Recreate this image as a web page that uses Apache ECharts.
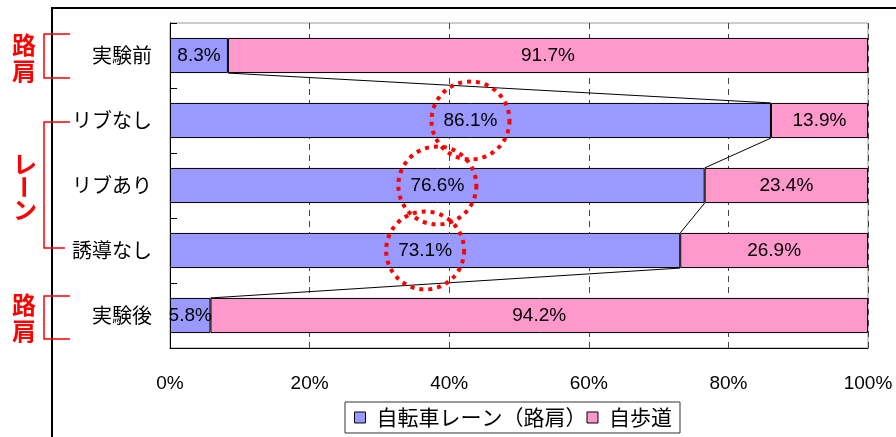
<!DOCTYPE html>
<html>
<head>
<meta charset="utf-8">
<script src="https://cdn.jsdelivr.net/npm/echarts@6/dist/echarts.min.js"></script>
<style>
  html, body { margin: 0; padding: 0; background: #fff; }
  #chart { width: 896px; height: 437px; }
</style>
</head>
<body>
<div id="chart"></div>
<script>
// Share of cyclists by riding position, per survey condition
const categories = ['実験前', 'リブなし', 'リブあり', '誘導なし', '実験後'];
const laneShare = [8.3, 86.1, 76.6, 73.1, 5.8];      // 自転車レーン（路肩）
const sidewalkShare = [91.7, 13.9, 23.4, 26.9, 94.2]; // 自歩道
const xTicks = [0, 20, 40, 60, 80, 100];
const highlighted = [1, 2, 3]; // lane conditions whose share is circled

const JP = "'Noto Sans CJK JP', sans-serif";
const NUM = "'Liberation Sans Narrow', 'Liberation Sans', sans-serif";
const BAR_RATIO = 0.54;

// connector lines between consecutive bars at the lane/sidewalk split
const connectorData = [];
for (let i = 0; i < laneShare.length - 1; i++) {
  connectorData.push([laneShare[i], i, laneShare[i + 1], i + 1]);
}
const circleData = highlighted.map(i => [laneShare[i], i]);

const chart = echarts.init(document.getElementById('chart'), null, { renderer: 'canvas' });

const red = '#ff0000';
const bracket = (x, y1, y2, x2a, x2b) => ({
  type: 'polyline',
  shape: { points: [[x2a, y1], [x, y1], [x, y2], [x2b, y2]] },
  style: { stroke: red, lineWidth: 1.5, fill: null },
  z: 10
});
const redText = (text, x, y, extra) => Object.assign({
  type: 'text',
  x: x, y: y,
  style: {
    text: text, fill: red, font: 'bold 24px ' + JP,
    textAlign: 'center', textVerticalAlign: 'middle'
  },
  z: 10
}, extra || {});

chart.setOption({
  animation: false,
  backgroundColor: '#fff',
  grid: {
    left: 170, right: 28, top: 23, bottom: 89,
    show: true, borderColor: '#999', borderWidth: 1, backgroundColor: 'transparent'
  },
  legend: {
    left: 345, top: 402,
    padding: [5, 8, 5, 9],
    itemWidth: 11, itemHeight: 11, itemGap: 0,
    borderColor: '#333', borderWidth: 1, backgroundColor: '#fff',
    icon: 'rect',
    itemStyle: { borderColor: '#000', borderWidth: 1 },
    textStyle: { fontFamily: JP, fontSize: 21, color: '#000', padding: [0, 0, 0, 6] },
    data: ['自転車レーン（路肩）', '自歩道']
  },
  xAxis: {
    type: 'value', min: 0, max: 100, interval: 20,
    axisLine: { show: true, lineStyle: { color: '#000', width: 1 } },
    axisTick: { show: false },
    axisLabel: {
      formatter: v => xTicks.includes(v) ? v + '%' : '',
      fontFamily: NUM, fontSize: 19, color: '#000', margin: 26
    },
    splitLine: { show: true, lineStyle: { color: '#444', width: 1, type: [6, 5] } }
  },
  yAxis: {
    type: 'category', data: categories, inverse: true,
    axisLine: { show: true, lineStyle: { color: '#000', width: 1 } },
    axisTick: { show: true, inside: true, length: 7, lineStyle: { color: '#000' } },
    axisLabel: { fontFamily: JP, fontSize: 20, color: '#000', margin: 18 },
    splitLine: { show: false }
  },
  series: [
    {
      name: '自転車レーン（路肩）', type: 'bar', stack: 'share',
      data: laneShare, barWidth: (BAR_RATIO * 100) + '%',
      itemStyle: { color: '#9999ff', borderColor: '#000', borderWidth: 1 },
      label: {
        show: true, position: 'inside', color: '#000',
        fontFamily: NUM, fontSize: 19,
        formatter: p => p.value.toFixed(1) + '%'
      },
      z: 2
    },
    {
      name: '自歩道', type: 'bar', stack: 'share',
      data: sidewalkShare, barWidth: (BAR_RATIO * 100) + '%',
      itemStyle: { color: '#ff99cc', borderColor: '#000', borderWidth: 1 },
      label: {
        show: true, position: 'inside', color: '#000',
        fontFamily: NUM, fontSize: 19,
        formatter: p => p.value.toFixed(1) + '%'
      },
      z: 2
    },
    {
      // series lines joining the split point of neighbouring bars
      type: 'custom', coordinateSystem: 'cartesian2d', silent: true,
      encode: { x: [0, 2], y: [1, 3] },
      data: connectorData,
      renderItem: (params, api) => {
        const band = api.size([0, 1])[1];
        const half = band * BAR_RATIO / 2;
        const a = api.coord([api.value(0), api.value(1)]);
        const b = api.coord([api.value(2), api.value(3)]);
        return {
          type: 'line',
          shape: { x1: a[0], y1: a[1] + half, x2: b[0], y2: b[1] - half },
          style: { stroke: '#000', lineWidth: 1 }
        };
      },
      z: 3
    },
    {
      // dotted rings around the lane share labels
      type: 'custom', coordinateSystem: 'cartesian2d', silent: true,
      encode: { x: 0, y: 1 },
      data: circleData,
      renderItem: (params, api) => {
        const band = api.size([0, 1])[1];
        const c = api.coord([api.value(0) / 2, api.value(1)]);
        return {
          type: 'circle',
          shape: { cx: c[0], cy: c[1], r: band * 0.6 },
          style: { fill: null, stroke: red, lineWidth: 4, lineDash: [4, 5] }
        };
      },
      z: 5
    }
  ],
  graphic: [
    {
      type: 'rect',
      shape: { x: 52, y: 8, width: 1000, height: 1000 },
      style: { fill: null, stroke: '#000', lineWidth: 2 },
      silent: true, z: 0
    },
    bracket(44, 34, 78, 70, 70),
    bracket(44, 122, 248, 70, 65),
    bracket(44, 296, 339, 70, 70),
    redText('路', 24, 45),
    redText('肩', 24, 71),
    redText('レ', 25, 164),
    redText('ー', 24, 187, { rotation: -Math.PI / 2 }),
    redText('ン', 25, 210),
    redText('路', 24, 305),
    redText('肩', 24, 331)
  ]
});
</script>
</body>
</html>
